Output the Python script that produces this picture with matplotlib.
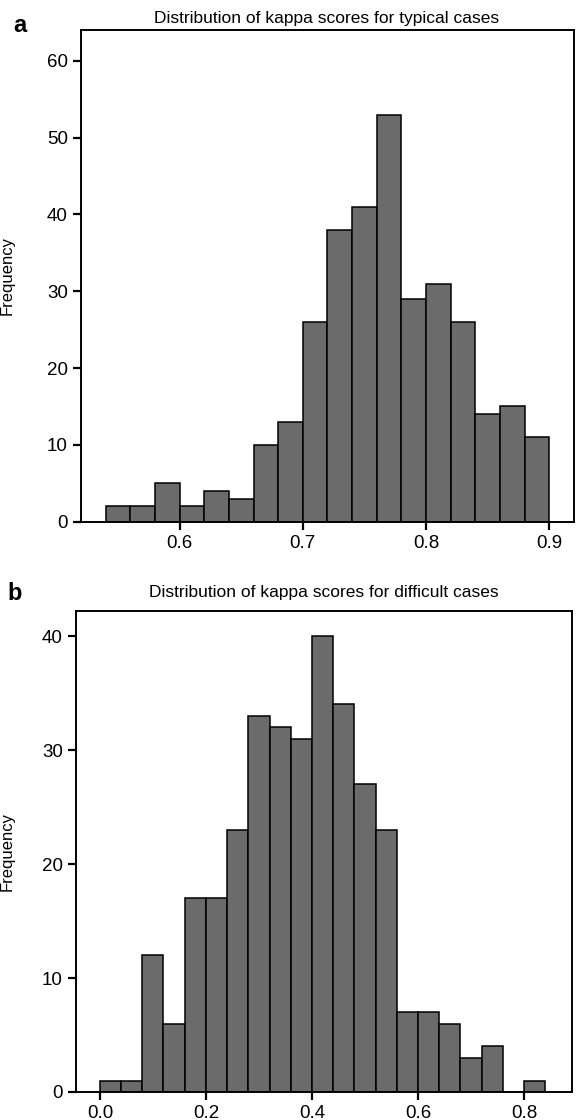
import matplotlib
matplotlib.use('Agg')
import matplotlib.pyplot as plt

plt.rcParams['font.family'] = ['Liberation Sans', 'DejaVu Sans']

# panel a: kappa scores, typical cases (bins of 0.02)
typical_bins = [0.54, 0.56, 0.58, 0.60, 0.62, 0.64, 0.66, 0.68, 0.70,
                0.72, 0.74, 0.76, 0.78, 0.80, 0.82, 0.84, 0.86, 0.88]
typical_counts = [2, 2, 5, 2, 4, 3, 10, 13, 26, 38, 41, 53, 29, 31, 26, 14, 15, 11]
typical_xticks = [0.6, 0.7, 0.8, 0.9]
typical_yticks = [0, 10, 20, 30, 40, 50, 60]

# panel b: kappa scores, difficult cases (bins of 0.04)
difficult_bins = [0.00, 0.04, 0.08, 0.12, 0.16, 0.20, 0.24, 0.28, 0.32, 0.36, 0.40,
                  0.44, 0.48, 0.52, 0.56, 0.60, 0.64, 0.68, 0.72, 0.76, 0.80]
difficult_counts = [1, 1, 12, 6, 17, 17, 23, 33, 32, 31, 40, 34, 27, 23, 7, 7, 6, 3, 4, 0, 1]
difficult_xticks = [0.0, 0.2, 0.4, 0.6, 0.8]
difficult_yticks = [0, 10, 20, 30, 40]

bar_color = '#6b6b6b'

fig = plt.figure(figsize=(5.76, 11.2), dpi=100)
ax_a = fig.add_axes([0.1406, 0.5342, 0.8559, 0.439])
ax_b = fig.add_axes([0.132, 0.025, 0.8605, 0.4295])


def style_axes(ax, xticks, yticks, label_x):
    for sp in ax.spines.values():
        sp.set_linewidth(1.4)
    ax.set_xticks(xticks)
    ax.set_xticklabels(['%.1f' % t for t in xticks])
    ax.set_yticks(yticks)
    ax.tick_params(direction='out', length=6, width=1.6, labelsize=13.5)
    ax.set_ylabel('Frequency', fontsize=12)
    ax.yaxis.set_label_coords(label_x, 0.5)


ax_a.bar(typical_bins, typical_counts, width=0.02, align='edge',
         color=bar_color, edgecolor='black', linewidth=1.1)
ax_a.set_xlim(0.52, 0.92)
ax_a.set_ylim(0, 64)
style_axes(ax_a, typical_xticks, typical_yticks, -0.134)

ax_b.bar(difficult_bins, difficult_counts, width=0.04, align='edge',
         color=bar_color, edgecolor='black', linewidth=1.1)
ax_b.set_xlim(-0.045, 0.89)
ax_b.set_ylim(0, 42.2)
style_axes(ax_b, difficult_xticks, difficult_yticks, -0.123)

fig.text(327 / 576, 1 - 19 / 1120, 'Distribution of kappa scores for typical cases',
         ha='center', va='center', fontsize=12.5)
fig.text(324 / 576, 1 - 593 / 1120, 'Distribution of kappa scores for difficult cases',
         ha='center', va='center', fontsize=12.5)
fig.text(20 / 576, 1 - 25 / 1120, 'a', ha='center', va='center',
         fontsize=17, fontweight='bold')
fig.text(15 / 576, 1 - 593 / 1120, 'b', ha='center', va='center',
         fontsize=17, fontweight='bold')

fig.savefig('out.png', dpi=100)
